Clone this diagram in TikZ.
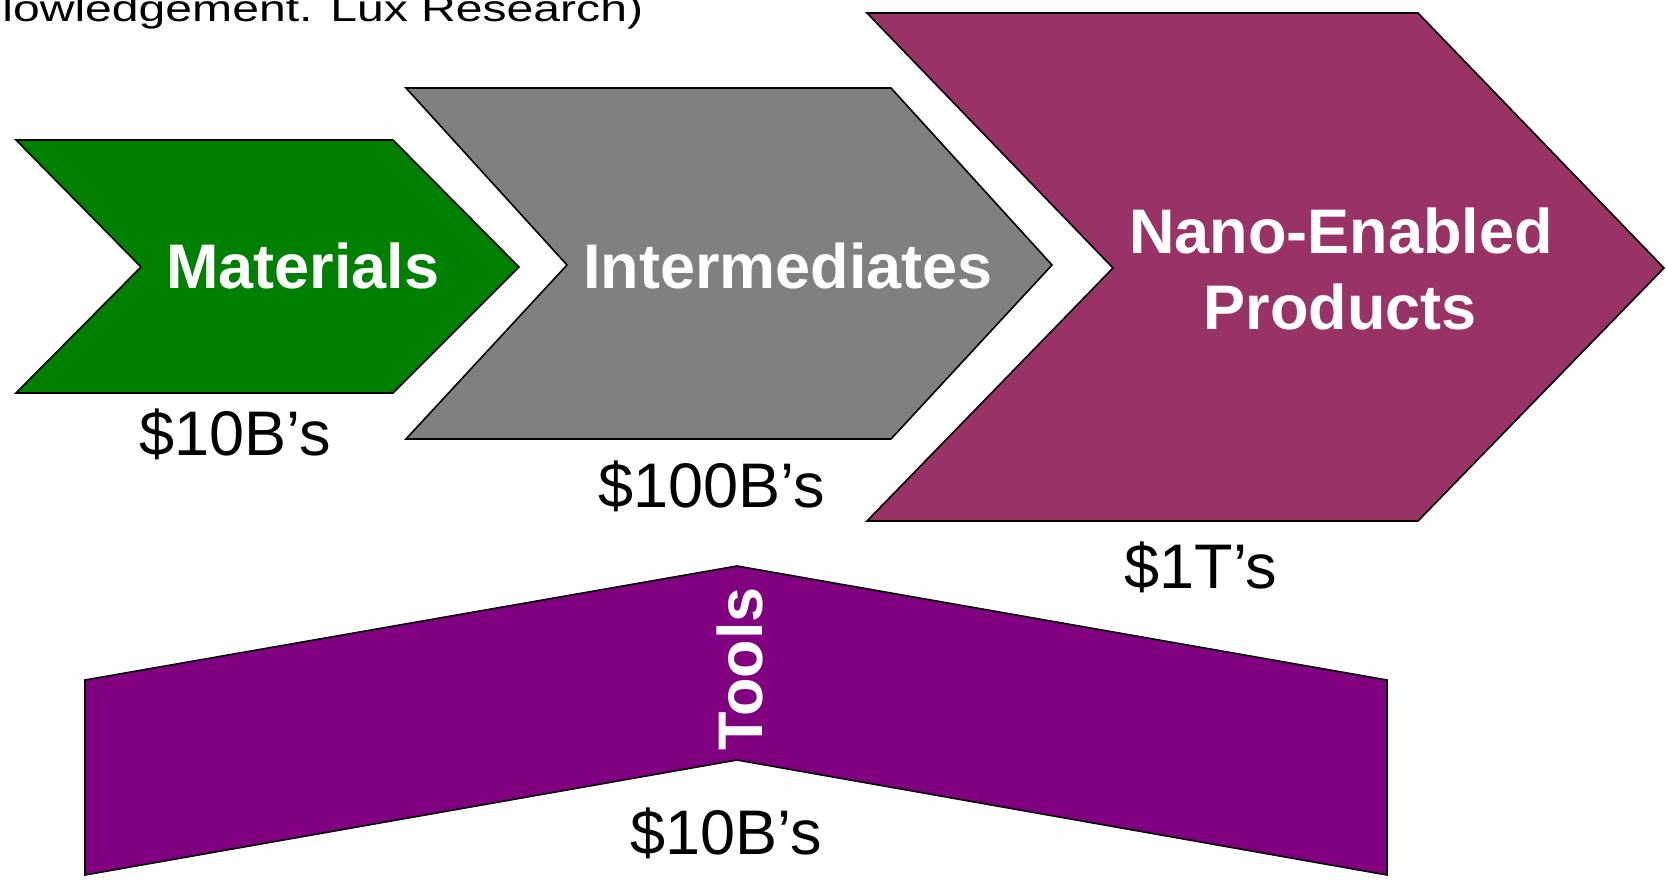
\documentclass[tikz,border=0pt]{standalone}
\usepackage{fontspec}
\setmainfont{Liberation Sans}
\usepackage{tikz}

\definecolor{matgreen}{RGB}{0,128,0}
\definecolor{midgray}{RGB}{128,128,128}
\definecolor{prodplum}{RGB}{153,51,102}
\definecolor{toolpurple}{RGB}{128,0,128}

\begin{document}
\begin{tikzpicture}[x=0.5pt,y=-0.5pt,
		chev/.style={draw=black,line width=0.8pt},
		bigtxt/.style={font=\fontsize{31.5}{38}\selectfont},
		boldtxt/.style={font=\fontsize{31.5}{38}\selectfont\bfseries}]
			\useasboundingbox (0,0) rectangle (1667,883);

			\begin{scope}[every path/.append style={line join=miter}]
				\filldraw[chev,fill=matgreen] (16,140) -- (393,140) -- (519,267) -- (393,393) -- (16,393) -- (141,267) -- cycle;
				\filldraw[chev,fill=midgray] (406,88) -- (891,88) -- (1052,265) -- (891,439) -- (406,439) -- (567,265) -- cycle;
				\filldraw[chev,fill=prodplum] (867,13) -- (1418,13) -- (1664,268) -- (1418,521) -- (867,521) -- (1113,268) -- cycle;
				\filldraw[chev,fill=toolpurple] (85,680) -- (737,566) -- (1387,680) -- (1387,875) -- (737,760) -- (85,875) -- cycle;
			\end{scope}

			\begin{scope}[every node/.style={inner sep=0pt,anchor=base,text=white,boldtxt}]
				\node (mat) at (303,288) {Materials};
				\node (inter) at (788,288) {Intermediates};
				\node (nano) at (1341,254) {Nano-Enabled};
				\node (prod) at (1340,329) {Products};
				\node[rotate=90] (tools) at (762,669) {Tools};
			\end{scope}

			\begin{scope}[every node/.style={inner sep=0pt,anchor=base,bigtxt}]
				\node (matval) at (235,455) {\$10B’s};
				\node (interval) at (712,507) {\$100B’s};
				\node (prodval) at (1201,588) {\$1T’s};
				\node (toolsval) at (726,854) {\$10B’s};
			\end{scope}

			%\node (title) at (0,0) {};
			\node[inner sep=0pt,anchor=base west,font=\fontsize{18.5}{22}\selectfont] (src) at (2,22) {\scalebox{1.3}[1]{lowledgement. Lux Research)}};
		\end{tikzpicture}
\end{document}
